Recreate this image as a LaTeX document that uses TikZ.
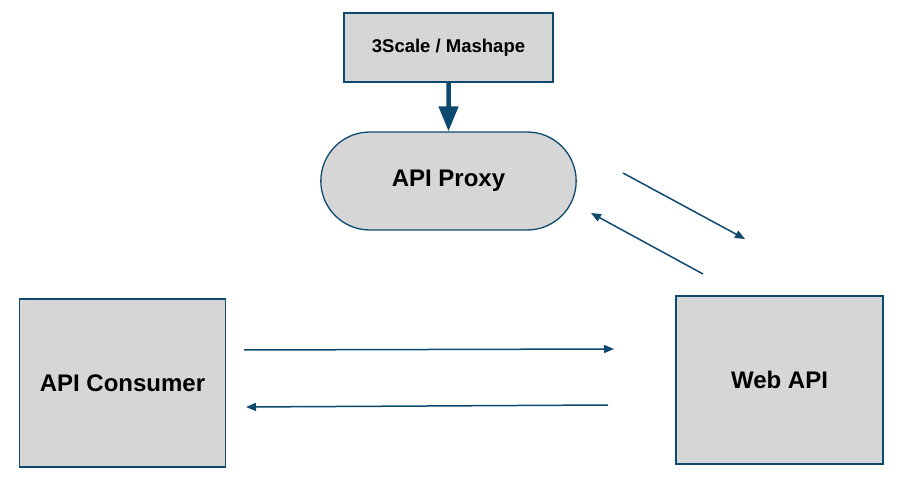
\documentclass[tikz,border=0pt]{standalone}
\usepackage{fontspec}
\setmainfont{Liberation Sans}
\usetikzlibrary{positioning,arrows.meta,shapes.misc}
\definecolor{edgeblue}{HTML}{0E4A70}
\definecolor{boxgray}{HTML}{D6D6D6}

\begin{document}
\begin{tikzpicture}[x=1pt, y=-1pt]
    \tikzset{
      box/.style = { draw = edgeblue, fill = boxgray, line width = 1.3pt, font = \bfseries\fontsize{24}{28}\selectfont },
      flow/.style = { edgeblue, line width = 1.5pt, -{Triangle[length=10pt, width=8pt]} },
    }
    \useasboundingbox (0,0) rectangle (906,486);

    \node[box, minimum width=209pt, minimum height=69pt, font=\bfseries\fontsize{18.5}{22}\selectfont] (api manager) at (448.5,47.5) {3Scale / Mashape};
    \node[box, rounded rectangle, minimum width=262pt, minimum height=98pt] (api proxy) at (448.5,181) {API Proxy};
    \node[box, minimum width=206pt, minimum height=168pt] (api consumer) at (122.5,383) {API Consumer};
    \node[box, minimum width=207pt, minimum height=168pt] (web api) at (779.5,380) {Web API};

    \draw[edgeblue, line width=4.5pt, -{Triangle[length=25pt, width=19pt]}] (api manager) -- (api proxy);

    % proxy <-> web api
    \coordinate (proxy out) at (623,173);
    \coordinate (proxy in) at (745,239);
    \coordinate (web out) at (703,274);
    \coordinate (web in) at (591,213);
    \draw[flow] (proxy out) -- (proxy in);
    \draw[flow] (web out) -- (web in);

    % consumer <-> web api
    \coordinate (request start) at (244,350);
    \coordinate (request end) at (614,349);
    \coordinate (response start) at (608,405);
    \coordinate (response end) at (246,407);
    \draw[flow] (request start) -- (request end);
    \draw[flow] (response start) -- (response end);
\end{tikzpicture}
\end{document}
